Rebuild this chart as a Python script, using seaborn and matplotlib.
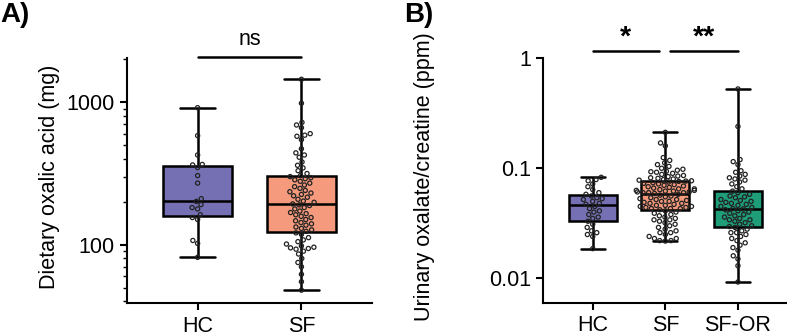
import seaborn as sns
import matplotlib.pyplot as plt
import matplotlib.ticker as mticker
import matplotlib.transforms as mtransforms
import pandas as pd

# ---- data ----
groups_a = ["HC", "SF"]
groups_b = ["HC", "SF", "SF-OR"]

# A) dietary oxalic acid (mg)
diet_hc = [912, 581, 425, 365, 362, 347, 305, 270, 210, 201, 191, 182, 178,
           162, 155, 150, 107, 102, 81.5]
diet_sf = [1442, 980, 720, 690, 660, 600, 585, 575, 545, 470, 440, 425, 410,
           380, 360, 345, 330, 315, 305,
           300, 295, 290, 285, 278, 270, 262, 255, 248, 240, 235, 230, 225,
           220, 215, 208, 202, 198, 193,
           190,
           188, 182, 178, 172, 168, 165, 162, 158, 155, 150, 147, 143, 140,
           137, 133, 130, 127, 124,
           121, 118, 112, 108, 105, 101, 98, 96, 95, 94, 93, 90, 86, 80, 75,
           70, 62, 55, 48]

# B) urinary oxalate/creatine (ppm)
urine_hc = [0.0828, 0.079, 0.077, 0.072, 0.068, 0.064, 0.060,
            0.058, 0.056, 0.054, 0.053, 0.052, 0.050, 0.048,
            0.047,
            0.045, 0.043, 0.041, 0.040, 0.038, 0.036, 0.035,
            0.033, 0.031, 0.029, 0.027, 0.026, 0.025, 0.024, 0.0186]
urine_sf = [0.212, 0.17, 0.16, 0.125, 0.118, 0.112, 0.108, 0.104, 0.100,
            0.098, 0.096, 0.094, 0.093, 0.092, 0.090, 0.088, 0.086, 0.085,
            0.084, 0.082, 0.081, 0.080, 0.079, 0.078,
            0.077, 0.0765, 0.076, 0.075, 0.074, 0.073, 0.072, 0.071, 0.070,
            0.069, 0.068, 0.067, 0.066, 0.065, 0.065, 0.064, 0.063, 0.063,
            0.062, 0.062, 0.061, 0.061, 0.060, 0.060, 0.060,
            0.059, 0.058, 0.057, 0.056, 0.055, 0.054, 0.053, 0.052, 0.052,
            0.051, 0.050, 0.050, 0.049, 0.048, 0.048, 0.047, 0.046, 0.046,
            0.045, 0.045, 0.044, 0.044, 0.043, 0.043, 0.043,
            0.042, 0.041, 0.040, 0.039, 0.038, 0.037, 0.036, 0.035, 0.034,
            0.034, 0.033, 0.032, 0.031, 0.030, 0.029, 0.028, 0.027, 0.026,
            0.026, 0.025, 0.024, 0.023, 0.023, 0.022, 0.022, 0.0218]
urine_sfor = [0.526, 0.24, 0.12, 0.115, 0.108, 0.095, 0.092, 0.088, 0.085,
              0.082, 0.080, 0.078, 0.075, 0.072, 0.068, 0.065,
              0.062, 0.060, 0.058, 0.056, 0.055, 0.054, 0.052, 0.051, 0.050,
              0.049, 0.048, 0.047, 0.046, 0.045, 0.044, 0.043,
              0.0427,
              0.042, 0.041, 0.040, 0.039, 0.038, 0.037, 0.036, 0.035, 0.034,
              0.034, 0.033, 0.032, 0.031, 0.030, 0.0295, 0.029,
              0.028, 0.027, 0.026, 0.026, 0.025, 0.024, 0.023, 0.022, 0.021,
              0.020, 0.019, 0.018, 0.016, 0.015, 0.013, 0.00925]

colors = {"HC": "#7570b3", "SF": "#f59a7c", "SF-OR": "#1f9c78"}

df_a = pd.DataFrame({
    "group": ["HC"] * len(diet_hc) + ["SF"] * len(diet_sf),
    "value": diet_hc + diet_sf,
})
df_b = pd.DataFrame({
    "group": (["HC"] * len(urine_hc) + ["SF"] * len(urine_sf)
              + ["SF-OR"] * len(urine_sfor)),
    "value": urine_hc + urine_sf + urine_sfor,
})

sns.set_style("ticks")
plt.rcParams["font.family"] = ["Liberation Sans", "DejaVu Sans"]
for key in ["text.color", "axes.labelcolor", "xtick.color", "ytick.color",
            "axes.edgecolor"]:
    plt.rcParams[key] = "black"
FS = 15.5

fig = plt.figure(figsize=(7.87, 3.35), dpi=100)
ax_a = fig.add_axes([0.1614, 0.0955, 0.3113, 0.731])
ax_b = fig.add_axes([0.6904, 0.0965, 0.31, 0.7295])


def draw_panel(ax, df, order):
    ax.set_yscale("log")
    sns.boxplot(data=df, x="group", y="value", hue="group", order=order,
                hue_order=order, palette=colors, legend=False, ax=ax,
                whis=(0, 100), width=0.66, linewidth=1.8, linecolor="black",
                showfliers=False, saturation=1)
    n_before = len(ax.collections)
    sns.swarmplot(data=df, x="group", y="value", order=order, ax=ax,
                  color="white", size=3.0, linewidth=0.9,
                  edgecolor="#222222", warn_thresh=1)
    for coll in ax.collections[n_before:]:
        coll.set_facecolor("none")
        coll.set_zorder(3)
    ax.set_xlabel("")
    ax.set_xlim(-0.68, len(order) - 1 + 0.68)
    sns.despine(ax=ax)
    for side in ["left", "bottom"]:
        ax.spines[side].set_linewidth(1.5)
    ax.tick_params(axis="both", which="major", labelsize=FS, width=1.5,
                   length=5, pad=4, color="black")
    ax.tick_params(axis="y", which="minor", width=1.0, length=3)


fmt = mticker.FuncFormatter(lambda v, p: f"{v:g}")

# ---- panel A ----
draw_panel(ax_a, df_a, groups_a)
ax_a.set_ylim(39, 2030)
ax_a.yaxis.set_major_locator(mticker.FixedLocator([100, 1000]))
ax_a.yaxis.set_major_formatter(fmt)
ax_a.yaxis.set_minor_locator(mticker.LogLocator(base=10, subs=range(2, 10)))
ax_a.yaxis.set_minor_formatter(mticker.NullFormatter())
ax_a.set_ylabel("Dietary oxalic acid (mg)", fontsize=FS)
ax_a.yaxis.set_label_coords(-0.273, 0.515)

# ---- panel B ----
draw_panel(ax_b, df_b, groups_b)
ax_b.set_ylim(0.006, 1)
ax_b.yaxis.set_major_locator(mticker.FixedLocator([0.01, 0.1, 1]))
ax_b.yaxis.set_major_formatter(fmt)
ax_b.yaxis.set_minor_locator(mticker.NullLocator())
ax_b.set_ylabel("Urinary oxalate/creatine (ppm)", fontsize=FS)
ax_b.yaxis.set_label_coords(-0.444, 0.515)

# ---- significance bars ----
tr_a = mtransforms.blended_transform_factory(ax_a.transData, ax_a.transAxes)
ax_a.plot([0, 1], [1.003, 1.003], color="black", lw=1.8, transform=tr_a,
          clip_on=False)
ax_a.text(0.5, 1.035, "ns", transform=tr_a, ha="center", va="bottom",
          fontsize=FS)

tr_b = mtransforms.blended_transform_factory(ax_b.transData, ax_b.transAxes)
ax_b.plot([0, 0.91], [1.031, 1.031], color="black", lw=1.8, transform=tr_b,
          clip_on=False)
ax_b.plot([1.07, 2.0], [1.031, 1.031], color="black", lw=1.8, transform=tr_b,
          clip_on=False)
ax_b.text(0.455, 1.085, "*", transform=tr_b, ha="center", va="center",
          fontsize=FS + 5, fontweight="bold")
ax_b.text(1.535, 1.085, "**", transform=tr_b, ha="center", va="center",
          fontsize=FS + 5, fontweight="bold")

# ---- panel letters ----
fig.text(0.0, 0.955, "A)", fontsize=20, fontweight="bold", va="center")
fig.text(0.514, 0.955, "B)", fontsize=20, fontweight="bold", va="center")

fig.savefig("out.png", dpi=100)
